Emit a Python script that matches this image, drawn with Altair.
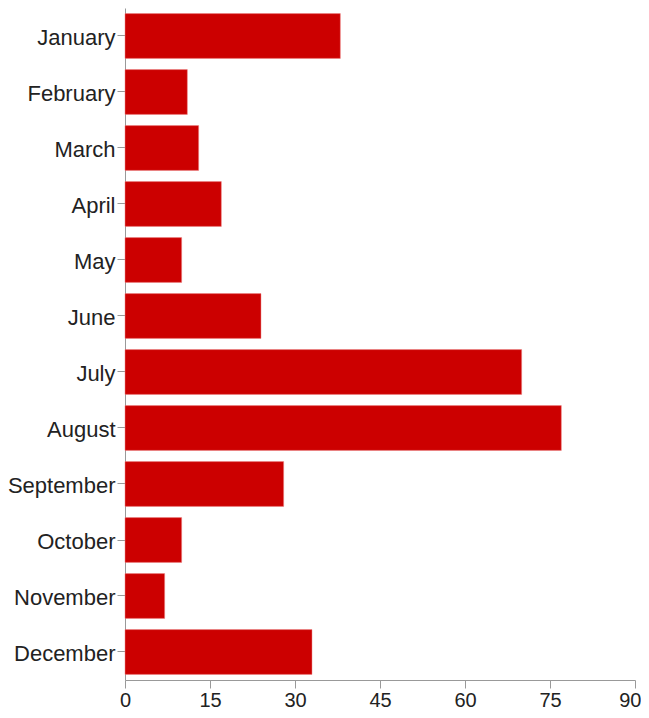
import altair as alt
import pandas as pd

months = ["January", "February", "March", "April", "May", "June", "July",
          "August", "September", "October", "November", "December"]
values = [38, 11, 13, 17, 10, 24, 70, 77, 28, 10, 7, 33]
x_ticks = [0, 15, 30, 45, 60, 75, 90]

df = pd.DataFrame({"month": months, "value": values})

axis_common = dict(labelColor="#222", labelFont="Liberation Sans",
                   tickColor="#999", domainColor="#999", tickSize=8, grid=False)

last = x_ticks[-1]

chart = alt.Chart(df).mark_bar(color="#cc0000", stroke="#e88", strokeWidth=0.5).encode(
    y=alt.Y("month:N", sort=months, title=None,
            scale=alt.Scale(paddingInner=0.2, paddingOuter=0.1),
            axis=alt.Axis(labelPadding=2, labelFontSize=22, labelOffset=2, **axis_common)),
    x=alt.X("value:Q", title=None,
            scale=alt.Scale(domain=[0, 90], nice=False),
            axis=alt.Axis(values=x_ticks, labelPadding=2, labelFontSize=20,
                          labelFlush=False,
                          labelAlign=alt.condition(f"datum.value == {last}",
                                                   alt.value("right"), alt.value("center")),
                          labelOffset=alt.condition(f"datum.value == {last}",
                                                    alt.value(6), alt.value(0)),
                          **axis_common)),
).properties(
    width=510, height=672,
    autosize=alt.AutoSizeParams(type="none"),
    padding={"left": 117, "top": 0, "right": 6, "bottom": 30},
).configure_view(stroke=None)

chart.save("out.html", embed_options={"renderer": "svg", "actions": False})
